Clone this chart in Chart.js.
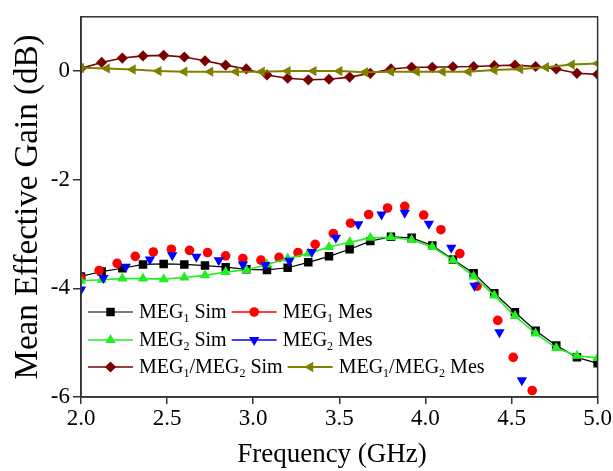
<!DOCTYPE html>
<html>
<head>
<meta charset="utf-8">
<script src="https://cdn.jsdelivr.net/npm/chart.js@4.4.1/dist/chart.umd.min.js"></script>
<style>
  html, body { margin: 0; padding: 0; background: #fff; }
</style>
</head>
<body>
<canvas id="megChart" width="613" height="471"></canvas>
<script>
// Frequencies (GHz) for each group of samples
const freqSim = [2.00, 2.12, 2.24, 2.36, 2.48, 2.60, 2.72, 2.84, 2.96, 3.08, 3.20, 3.32, 3.44,
                 3.56, 3.68, 3.80, 3.92, 4.04, 4.16, 4.28, 4.40, 4.52, 4.64, 4.76, 4.88, 5.00];
const freqMeg1Mes = [2.00, 2.105, 2.21, 2.315, 2.42, 2.525, 2.63, 2.735, 2.84, 2.94, 3.045, 3.15, 3.26,
                     3.36, 3.465, 3.565, 3.67, 3.78, 3.88, 3.99, 4.09, 4.20, 4.30, 4.42, 4.51, 4.62];
const freqMeg2Mes = [2.00, 2.13, 2.26, 2.40, 2.53, 2.67, 2.80, 2.94, 3.07, 3.21,
                     3.34, 3.48, 3.61, 3.745, 3.88, 4.02, 4.15, 4.285, 4.43, 4.56];
const freqRatioMes = [2.00, 2.15, 2.30, 2.45, 2.60, 2.75, 2.90, 3.05, 3.20, 3.35, 3.50,
                      3.65, 3.80, 3.95, 4.10, 4.25, 4.40, 4.55, 4.70, 4.85, 5.00];

// Mean effective gain values (dB)
const meg1Sim = [-3.78, -3.69, -3.63, -3.56, -3.55, -3.56, -3.58, -3.61, -3.65, -3.66, -3.62, -3.52, -3.41,
                 -3.28, -3.13, -3.05, -3.07, -3.21, -3.47, -3.72, -4.09, -4.44, -4.78, -5.05, -5.27, -5.38];
const meg1Mes = [-3.81, -3.67, -3.54, -3.41, -3.33, -3.28, -3.30, -3.34, -3.40, -3.45, -3.48, -3.43, -3.34,
                 -3.19, -2.99, -2.80, -2.64, -2.52, -2.49, -2.65, -2.92, -3.36, -3.96, -4.59, -5.27, -5.88];
const meg2Sim = [-3.86, -3.84, -3.82, -3.82, -3.83, -3.80, -3.76, -3.70, -3.66, -3.56, -3.45, -3.36, -3.24,
                 -3.15, -3.07, -3.06, -3.11, -3.24, -3.48, -3.78, -4.13, -4.51, -4.83, -5.10, -5.24, -5.28];
const meg2Mes = [-4.02, -3.81, -3.60, -3.47, -3.39, -3.42, -3.48, -3.56, -3.57, -3.49,
                 -3.33, -3.07, -2.82, -2.64, -2.61, -2.81, -3.25, -3.95, -4.81, -5.69];
const ratioSim = [0.05, 0.16, 0.24, 0.28, 0.29, 0.26, 0.19, 0.11, 0.04, -0.07, -0.13, -0.16, -0.15,
                  -0.11, -0.04, 0.04, 0.07, 0.07, 0.08, 0.085, 0.10, 0.11, 0.085, 0.04, -0.04, -0.06];
const ratioMes = [0.06, 0.05, 0.03, 0.00, -0.01, -0.01, -0.01, -0.01, 0.00, 0.00, 0.00,
                  -0.02, -0.01, -0.01, -0.01, -0.01, 0.02, 0.04, 0.07, 0.12, 0.14];

const yTickValues = [-6, -4, -2, 0];

const serif = "'Liberation Serif', 'Times New Roman', serif";

function pairs(xs, ys) {
    return xs.map((x, i) => ({ x: x, y: ys[i] }));
}

// legend label pieces: [text, isSubscript]
const series = [
    { label: [['MEG'], ['1', true], [' Sim']], color: '#000000', style: 'rect', radius: 6, rotation: 0,
      line: true, width: 1.2, data: pairs(freqSim, meg1Sim) },
    { label: [['MEG'], ['1', true], [' Mes']], color: '#ff0000', style: 'circle', radius: 4.8, rotation: 0,
      line: false, width: 1.3, data: pairs(freqMeg1Mes, meg1Mes) },
    { label: [['MEG'], ['2', true], [' Sim']], color: '#22ee22', style: 'triangle', radius: 6, rotation: 0,
      line: true, width: 1.6, data: pairs(freqSim, meg2Sim) },
    { label: [['MEG'], ['2', true], [' Mes']], color: '#0000ff', style: 'triangle', radius: 6, rotation: 180,
      line: false, width: 1.3, data: pairs(freqMeg2Mes, meg2Mes) },
    { label: [['MEG'], ['1', true], ['/MEG'], ['2', true], [' Sim']], color: '#7a0000', style: 'rectRot', radius: 5.6, rotation: 0,
      line: true, width: 1.6, data: pairs(freqSim, ratioSim) },
    { label: [['MEG'], ['1', true], ['/MEG'], ['2', true], [' Mes']], color: '#808000', style: 'triangle', radius: 6, rotation: -90,
      line: true, width: 2, data: pairs(freqRatioMes, ratioMes) }
];

const datasets = series.map((s, i) => ({
    data: s.data,
    showLine: s.line,
    borderColor: s.color,
    backgroundColor: s.color,
    borderWidth: s.width,
    pointStyle: s.style,
    pointRadius: s.radius,
    pointRotation: s.rotation,
    pointBorderWidth: 0,
    pointBackgroundColor: s.color,
    tension: 0,
    order: series.length - i   // later series sit on top, as in the original
}));

// box around the plot area and the two axis titles
const framePlugin = {
    id: 'frame',
    afterDraw(chart) {
        const a = chart.chartArea;
        const ctx = chart.ctx;
        ctx.save();
        ctx.strokeStyle = '#333';
        ctx.lineWidth = 1.5;
        ctx.strokeRect(a.left, a.top, a.right - a.left, a.bottom - a.top);

        ctx.fillStyle = '#000';
        ctx.textAlign = 'center';
        ctx.textBaseline = 'alphabetic';
        ctx.font = '27px ' + serif;
        ctx.fillText('Frequency (GHz)', 332, 462);

        ctx.translate(37, 207);
        ctx.rotate(-Math.PI / 2);
        ctx.font = '33px ' + serif;
        ctx.fillText('Mean Effective Gain (dB)', 0, 0);
        ctx.restore();
    }
};

function drawRich(ctx, parts, x, y) {
    parts.forEach(p => {
        if (p[1]) {
            ctx.font = '12px ' + serif;
            ctx.fillText(p[0], x, y + 6);
        } else {
            ctx.font = '20px ' + serif;
            ctx.fillText(p[0], x, y);
        }
        x += ctx.measureText(p[0]).width;
    });
    return x;
}

// two-column legend inside the plot, line + marker + label
const legendPlugin = {
    id: 'innerLegend',
    afterDraw(chart) {
        const ctx = chart.ctx;
        const rowsY = [312, 340, 367];
        ctx.save();
        ctx.textBaseline = 'middle';
        for (let r = 0; r < 3; r++) {
            let x = 88;
            for (let c = 0; c < 2; c++) {
                const s = series[r * 2 + c];
                const y = rowsY[r];
                ctx.strokeStyle = s.color;
                ctx.lineWidth = s.width;
                ctx.beginPath();
                ctx.moveTo(x, y);
                ctx.lineTo(x + 45, y);
                ctx.stroke();
                ctx.fillStyle = s.color;
                Chart.helpers.drawPoint(ctx, {
                    pointStyle: s.style, radius: s.radius, rotation: s.rotation, borderWidth: 0
                }, x + 22.5, y);
                ctx.fillStyle = '#000';
                x = drawRich(ctx, s.label, x + 51, y + 1) + 5;
            }
        }
        ctx.restore();
    }
};

new Chart(document.getElementById('megChart'), {
    type: 'scatter',
    data: { datasets: datasets },
    options: {
        responsive: false,
        animation: false,
        layout: { padding: { top: 12, right: 15, left: 0, bottom: 0 } },
        plugins: { legend: { display: false }, tooltip: { enabled: false } },
        scales: {
            x: {
                type: 'linear',
                min: 2, max: 5,
                afterFit: scale => { scale.height = 74; },
                ticks: {
                    stepSize: 0.5,
                    color: '#000',
                    padding: 1,
                    font: { family: serif, size: 23 },
                    callback: v => v.toFixed(1)
                },
                grid: { drawOnChartArea: false, drawTicks: true, tickLength: 7, color: '#333', lineWidth: 1.5 },
                border: { display: true, color: '#333', width: 1.5 }
            },
            y: {
                min: -6, max: 1,
                afterFit: scale => { scale.width = 81; },
                afterBuildTicks: scale => { scale.ticks = yTickValues.map(v => ({ value: v })); },
                ticks: {
                    color: '#000',
                    padding: 3,
                    font: { family: serif, size: 23 },
                    callback: v => String(v)
                },
                grid: { drawOnChartArea: false, drawTicks: true, tickLength: 8, color: '#333', lineWidth: 1.5 },
                border: { display: true, color: '#333', width: 1.5 }
            }
        }
    },
    plugins: [framePlugin, legendPlugin]
});
</script>
</body>
</html>
